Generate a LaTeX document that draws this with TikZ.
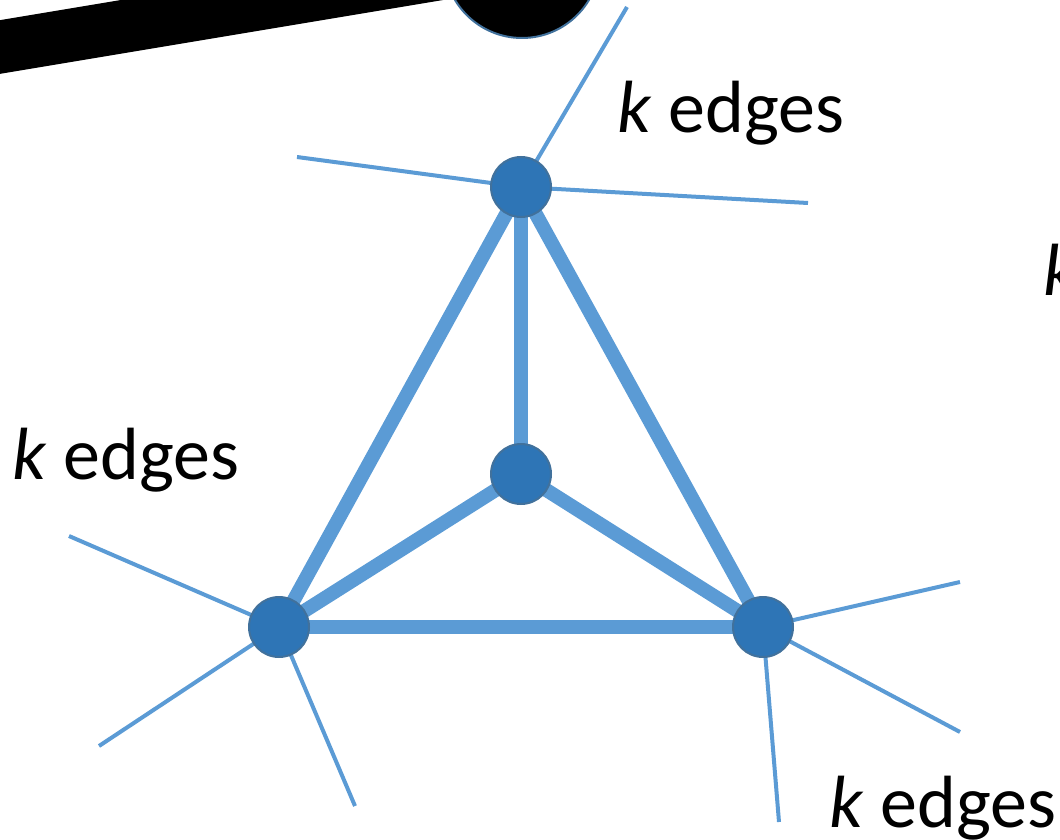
\documentclass[tikz,border=0pt]{standalone}
\usepackage{fontspec}
\setmainfont{Carlito}
\definecolor{edgeblue}{HTML}{5B9BD5}
\definecolor{nodeblue}{HTML}{2E75B6}
\definecolor{nodeline}{HTML}{41719C}
\begin{document}
\begin{tikzpicture}[x=1pt,y=-1pt,
  vert/.style={circle,fill=nodeblue,draw=nodeline,line width=2pt,minimum size=60pt,inner sep=0pt},
  bignode/.style={circle,fill=black,draw=nodeline,line width=2pt,minimum size=156pt,inner sep=0pt},
  thick edge/.style={draw=edgeblue,line width=14pt},
  thin edge/.style={draw=edgeblue,line width=4pt},
  band/.style={draw=black,line width=53pt},
  lbl/.style={anchor=base west,inner sep=0pt,font=\fontsize{74}{88}\selectfont}]
\useasboundingbox (0,0) rectangle (1060,840);
\clip (0,0) rectangle (1060,840);
% vertices
\coordinate (T) at (521,187);
\coordinate (M) at (521,474);
\coordinate (L) at (279,627);
\coordinate (R) at (763,627);
\coordinate (B) at (522,-40);
% free ends
\coordinate (band0) at (-30,52);
\coordinate (t1) at (627,7);
\coordinate (t2) at (297,157);
\coordinate (t3) at (808,203);
\coordinate (l1) at (69,536);
\coordinate (l2) at (99,746);
\coordinate (l3) at (355,806);
\coordinate (r1) at (960,582);
\coordinate (r2) at (960,732);
\coordinate (r3) at (779,822);
% black band and big node
\draw[band] (band0) -- (B);
\node[bignode] (big) at (B) {};
% thin edges
\draw[thin edge] (T) -- (t1);
\draw[thin edge] (T) -- (t2);
\draw[thin edge] (T) -- (t3);
\draw[thin edge] (L) -- (l1);
\draw[thin edge] (L) -- (l2);
\draw[thin edge] (L) -- (l3);
\draw[thin edge] (R) -- (r1);
\draw[thin edge] (R) -- (r2);
\draw[thin edge] (R) -- (r3);
% thick edges
\draw[thick edge] (T) -- (M);
\draw[thick edge] (T) -- (L);
\draw[thick edge] (T) -- (R);
\draw[thick edge] (M) -- (L);
\draw[thick edge] (M) -- (R);
\draw[thick edge] (L) -- (R);
% nodes
\node[vert] (top) at (T) {};
\node[vert] (mid) at (M) {};
\node[vert] (left) at (L) {};
\node[vert] (right) at (R) {};
% labels
\node[lbl] (lt) at (617,132) {\textit{k} edges};
\node[lbl] (ll) at (12,479) {\textit{k} edges};
\node[lbl] (lr) at (829,827) {\textit{k} edges};
\node[lbl] (lx) at (1043,295) {\textit{k} edges};
\end{tikzpicture}
\end{document}
